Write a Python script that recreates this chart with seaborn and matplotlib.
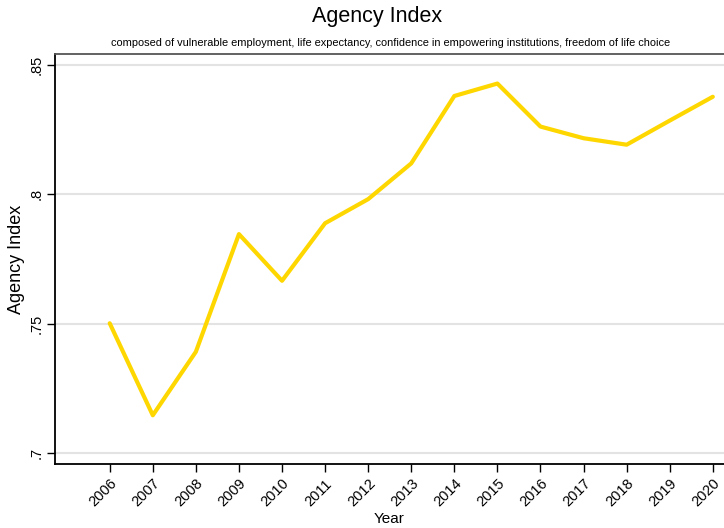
import pandas as pd
import numpy as np
import matplotlib.pyplot as plt
import seaborn as sns

years = [2006, 2007, 2008, 2009, 2010, 2011, 2012, 2013, 2014, 2015, 2016, 2017, 2018, 2019, 2020]
agency = [0.7502, 0.7147, 0.7392, 0.7846, 0.7666, 0.7888, 0.7981, 0.8119, 0.8379, 0.8427,
          0.8261, 0.8216, 0.8191, 0.8284, 0.8376]
y_ticks = [0.7, 0.75, 0.8, 0.85]
y_tick_labels = [".7", ".75", ".8", ".85"]

df = pd.DataFrame({"Year": years, "Agency Index": agency})

sns.set_style("white", {"xtick.bottom": True, "ytick.left": True,
                        "text.color": "black", "axes.labelcolor": "black",
                        "xtick.color": "black", "ytick.color": "black"})
plt.rcParams["font.family"] = ["Liberation Sans", "DejaVu Sans"]

fig = plt.figure(figsize=(7.24, 5.28), dpi=100)
ax = fig.add_axes([55 / 724, (528 - 464) / 528, 1 - 55 / 724, (464 - 54) / 528])

sns.lineplot(data=df, x="Year", y="Agency Index", color="#FFD700", linewidth=3.0,
             ax=ax, zorder=3, solid_capstyle="round")

ax.set_xlim(2004.73, 2020.26)
ax.set_ylim(0.6959, 0.8541)
ax.set_yticks(y_ticks)
ax.set_yticklabels(y_tick_labels, rotation=90, va="center", fontsize=10.5)
ax.set_xticks(years)
ax.set_xticklabels([str(y) for y in years], rotation=45, ha="right", rotation_mode="anchor", fontsize=10.5)

ax.yaxis.grid(True, color="#e3e3e3", linewidth=1.5)
ax.set_axisbelow(True)
ax.tick_params(axis="x", direction="out", length=6, width=1, colors="black", pad=3, bottom=True)
ax.tick_params(axis="y", direction="out", length=6, width=1, colors="black", pad=2, left=True)

for side in ["left", "bottom"]:
    ax.spines[side].set_color("black")
    ax.spines[side].set_linewidth(1.3)
ax.spines["top"].set_color("#555555")
ax.spines["top"].set_linewidth(1.3)
ax.spines["right"].set_visible(False)

ax.set_xlabel("Year", fontsize=11, labelpad=2, color="black")
ax.set_ylabel("Agency Index", fontsize=13, color="black")
ax.yaxis.set_label_coords(-0.045, 0.5)

fig.text(0.521, 0.969, "Agency Index", ha="center", va="center", fontsize=15.5, color="black")
fig.text(0.539, 0.919, "composed of vulnerable employment, life expectancy, confidence in empowering institutions, freedom of life choice",
         ha="center", va="center", fontsize=7.9, color="black")

plt.savefig("out.png", dpi=100)
